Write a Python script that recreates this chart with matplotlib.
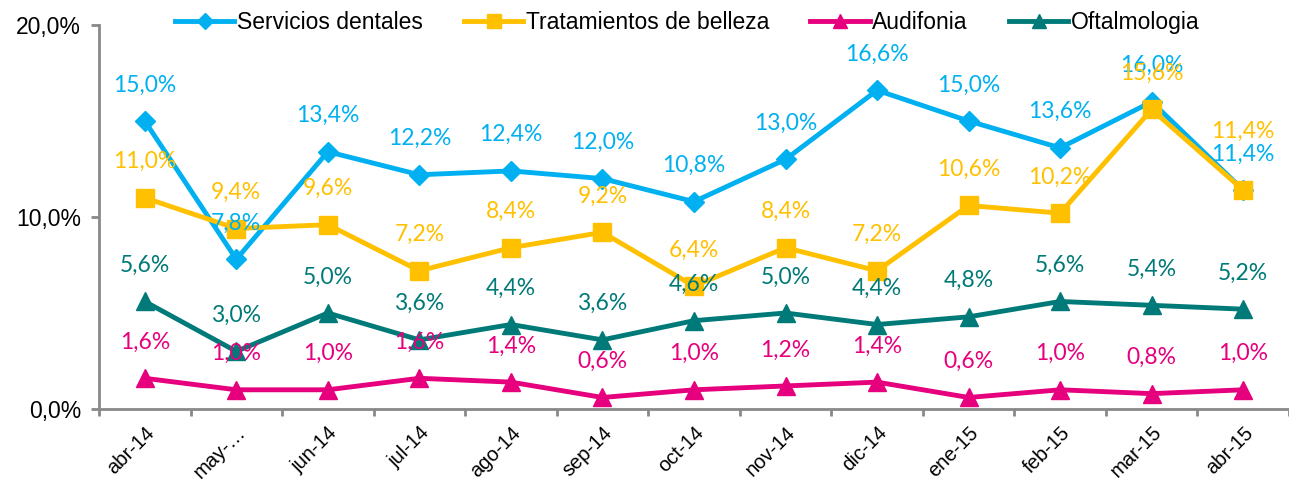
import matplotlib
matplotlib.use('Agg')
from matplotlib import pyplot as plt
from matplotlib.ticker import FuncFormatter, FixedLocator

months = ['abr-14', 'may-…', 'jun-14', 'jul-14', 'ago-14', 'sep-14', 'oct-14',
          'nov-14', 'dic-14', 'ene-15', 'feb-15', 'mar-15', 'abr-15']
dentales = [15.0, 7.8, 13.4, 12.2, 12.4, 12.0, 10.8, 13.0, 16.6, 15.0, 13.6, 16.0, 11.4]
belleza = [11.0, 9.4, 9.6, 7.2, 8.4, 9.2, 6.4, 8.4, 7.2, 10.6, 10.2, 15.6, 11.4]
audifonia = [1.6, 1.0, 1.0, 1.6, 1.4, 0.6, 1.0, 1.2, 1.4, 0.6, 1.0, 0.8, 1.0]
oftalmo = [5.6, 3.0, 5.0, 3.6, 4.4, 3.6, 4.6, 5.0, 4.4, 4.8, 5.6, 5.4, 5.2]

series = [
    ('Servicios dentales', dentales, '#00B0F0', 'D', 10),
    ('Tratamientos de belleza', belleza, '#FFC000', 's', 13),
    ('Audifonia', audifonia, '#E6007E', '^', 13),
    ('Oftalmologia', oftalmo, '#007A78', '^', 13),
]

fig = plt.figure(figsize=(12.89, 4.84), dpi=100)
ax = fig.add_axes([99 / 1289, 75 / 484, 1 - 99 / 1289, 384 / 484])

x = list(range(len(months)))
for name, vals, color, marker, ms in series:
    ax.plot(x, vals, color=color, lw=3.5, marker=marker, markersize=ms,
            label=name, solid_joinstyle='miter')
    for i, v in enumerate(vals):
        dy = 26
        # last month labels overlap in the original; nudge them apart
        if i == len(vals) - 1 and name == 'Tratamientos de belleza':
            dy = 42
        ax.annotate(('%.1f%%' % v).replace('.', ','), (i, v),
                    xytext=(0, dy), textcoords='offset points',
                    ha='center', va='center', color=color,
                    fontsize=16.5, family='Lato')

ax.set_xlim(-0.5, len(months) - 0.5)
ax.set_ylim(0, 20)
ax.set_yticks([0, 10, 20])
ax.yaxis.set_major_formatter(FuncFormatter(lambda v, p: ('%.1f%%' % v).replace('.', ',')))
ax.set_xticks(x)
ax.set_xticklabels(months, rotation=45, ha='right', rotation_mode='anchor')
ax.xaxis.set_minor_locator(FixedLocator([i - 0.5 for i in range(len(months) + 1)]))
ax.tick_params(axis='x', which='major', length=0, pad=10, labelsize=14.5)
ax.tick_params(axis='x', which='minor', length=5, width=2, color='#898989')
ax.tick_params(axis='y', length=6, width=2, color='#898989', labelsize=16.5, pad=7)
for lab in ax.get_xticklabels() + ax.get_yticklabels():
    lab.set_family('Liberation Sans')

for s in ['top', 'right']:
    ax.spines[s].set_visible(False)
for s in ['left', 'bottom']:
    ax.spines[s].set_color('#898989')
    ax.spines[s].set_linewidth(2)
ax.patch.set_alpha(0)

fig.legend(loc='center', bbox_to_anchor=(0.533, 0.953), ncol=4, frameon=False,
           prop={'family': 'Liberation Sans', 'size': 16.5}, handlelength=2.6,
           columnspacing=1.8, handletextpad=0.1, markerscale=0.8)

plt.savefig('out.png', dpi=100)
